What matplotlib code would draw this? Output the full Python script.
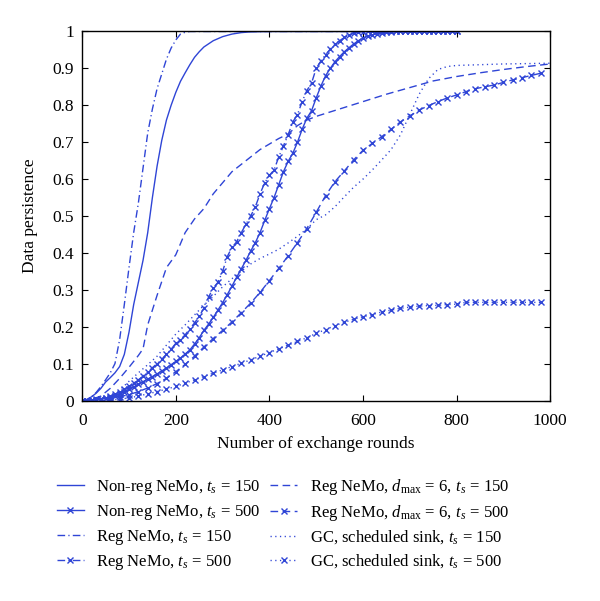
import numpy as np
import matplotlib
matplotlib.use('Agg')
import matplotlib.pyplot as plt

matplotlib.rcParams['font.family'] = ['Liberation Serif', 'DejaVu Serif']
matplotlib.rcParams['mathtext.fontset'] = 'custom'
matplotlib.rcParams['mathtext.rm'] = 'Liberation Serif'
matplotlib.rcParams['mathtext.it'] = 'Liberation Serif:italic'

# Non-reg NeMo, ts = 150
x_nr150 = [0, 10, 20, 30, 40, 50, 60, 70, 80, 90, 100, 110, 120, 130, 140, 150, 160, 170, 180, 190,
           200, 210, 220, 230, 240, 250, 260, 280, 300, 320, 340, 360, 400, 500, 600, 700, 800]
y_nr150 = [0, 0.003, 0.01, 0.02, 0.033, 0.05, 0.062, 0.075, 0.092, 0.125, 0.185, 0.26, 0.32, 0.38, 0.455,
           0.55, 0.635, 0.705, 0.76, 0.8, 0.835, 0.865, 0.888, 0.91, 0.93, 0.945, 0.958, 0.975, 0.986,
           0.993, 0.997, 0.999, 1, 1, 1, 1, 1]

# Reg NeMo, ts = 150
x_r150 = [0, 10, 20, 30, 40, 50, 60, 70, 80, 90, 100, 110, 120, 130, 140, 150, 160, 170, 180, 190,
          200, 210, 220, 230, 300, 400, 500, 600, 700, 800]
y_r150 = [0, 0.002, 0.01, 0.022, 0.038, 0.056, 0.075, 0.1, 0.165, 0.26, 0.36, 0.455, 0.535, 0.63, 0.725,
          0.79, 0.845, 0.885, 0.925, 0.955, 0.977, 0.993, 0.998, 1, 1, 1, 1, 1, 1, 1]

# Reg NeMo, dmax = 6, ts = 150
x_d150 = [0, 20, 40, 60, 80, 100, 120, 130, 140, 160, 180, 200, 220, 240, 260, 280, 300, 320, 340, 360,
          380, 400, 420, 440, 460, 480, 500, 550, 600, 650, 700, 750, 800, 850, 900, 950, 1000]
y_d150 = [0, 0.003, 0.012, 0.033, 0.06, 0.09, 0.122, 0.14, 0.205, 0.285, 0.36, 0.395, 0.455, 0.492, 0.52,
          0.56, 0.59, 0.62, 0.64, 0.66, 0.68, 0.695, 0.71, 0.722, 0.745, 0.76, 0.77, 0.79, 0.81, 0.83,
          0.848, 0.866, 0.878, 0.888, 0.897, 0.905, 0.912]

# GC, scheduled sink, ts = 150
x_gc150 = [0, 20, 40, 60, 80, 100, 120, 140, 160, 180, 200, 220, 240, 260, 280, 300, 320, 340, 360, 380,
           400, 420, 440, 460, 480, 500, 520, 540, 560, 580, 600, 620, 640, 660, 680, 700, 720, 740, 760,
           780, 800, 850, 900, 950, 1000]
y_gc150 = [0, 0.001, 0.004, 0.01, 0.028, 0.052, 0.075, 0.097, 0.12, 0.15, 0.18, 0.205, 0.232, 0.258,
           0.282, 0.308, 0.33, 0.35, 0.37, 0.385, 0.397, 0.41, 0.427, 0.445, 0.465, 0.49, 0.503, 0.525,
           0.552, 0.578, 0.6, 0.625, 0.652, 0.68, 0.72, 0.775, 0.83, 0.872, 0.897, 0.905, 0.908, 0.91,
           0.912, 0.913, 0.914]

# Non-reg NeMo, ts = 500 (every 10 rounds up to 800)
x_nr500 = list(range(0, 810, 10))
y_nr500 = [0, 0, 0.001, 0.002, 0.004, 0.006, 0.009, 0.013, 0.018, 0.024, 0.03, 0.037, 0.044, 0.051,
           0.058, 0.065, 0.072, 0.08, 0.088, 0.097, 0.106, 0.115, 0.126, 0.137, 0.153, 0.17, 0.19, 0.207,
           0.225, 0.245, 0.265, 0.287, 0.31, 0.334, 0.357, 0.38, 0.405, 0.428, 0.455, 0.488, 0.52, 0.55,
           0.585, 0.62, 0.648, 0.67, 0.7, 0.735, 0.765, 0.785, 0.82, 0.852, 0.88, 0.9, 0.918, 0.932,
           0.945, 0.956, 0.966, 0.975, 0.982, 0.987, 0.991, 0.994, 0.996, 0.998, 0.999, 1, 1, 1, 1, 1,
           1, 1, 1, 1, 1, 1, 1, 1, 1]

# Reg NeMo, ts = 500 (every 10 rounds up to 800)
x_r500 = list(range(0, 810, 10))
y_r500 = [0, 0, 0.001, 0.003, 0.005, 0.008, 0.012, 0.017, 0.023, 0.03, 0.038, 0.047, 0.056, 0.066,
          0.077, 0.089, 0.1, 0.112, 0.125, 0.139, 0.155, 0.165, 0.178, 0.195, 0.21, 0.228, 0.25, 0.28,
          0.305, 0.32, 0.35, 0.39, 0.415, 0.43, 0.455, 0.478, 0.5, 0.525, 0.56, 0.59, 0.61, 0.625, 0.66,
          0.69, 0.72, 0.755, 0.775, 0.81, 0.84, 0.86, 0.9, 0.92, 0.937, 0.952, 0.965, 0.975, 0.984,
          0.99, 0.995, 0.998, 0.999, 1, 1, 1, 1, 1, 1, 1, 1, 1, 1, 1, 1, 1, 1, 1, 1, 1, 1, 1, 1]

# Reg NeMo, dmax = 6, ts = 500 (every 20 rounds)
x_d500 = list(range(0, 1000, 20))
y_d500 = [0, 0.001, 0.003, 0.006, 0.01, 0.016, 0.024, 0.034, 0.046, 0.06, 0.078, 0.098, 0.12, 0.145,
          0.168, 0.19, 0.213, 0.238, 0.264, 0.293, 0.325, 0.358, 0.392, 0.428, 0.466, 0.51, 0.555, 0.593,
          0.622, 0.652, 0.678, 0.697, 0.715, 0.735, 0.755, 0.771, 0.787, 0.799, 0.81, 0.82, 0.828, 0.837,
          0.845, 0.85, 0.855, 0.862, 0.869, 0.875, 0.881, 0.887]

# GC, scheduled sink, ts = 500 (every 20 rounds)
x_gc500 = list(range(0, 1000, 20))
y_gc500 = [0, 0, 0.001, 0.002, 0.004, 0.007, 0.012, 0.018, 0.024, 0.031, 0.038, 0.047, 0.056, 0.065,
           0.074, 0.083, 0.092, 0.101, 0.11, 0.12, 0.13, 0.14, 0.15, 0.16, 0.17, 0.182, 0.192, 0.203,
           0.212, 0.22, 0.227, 0.233, 0.24, 0.245, 0.25, 0.253, 0.256, 0.257, 0.258, 0.26, 0.261, 0.266,
           0.266, 0.266, 0.266, 0.266, 0.266, 0.266, 0.266, 0.266]

c = '#2f45d6'
lw = 1.0
ms = 4.5
dash = (5.5, 3.2)
dashdot = (5.5, 2.3, 0.9, 2.3)
dot = (0.9, 2.5)

fig = plt.figure(figsize=(6, 6.01), dpi=100)
ax = fig.add_axes([0.137, 0.3336, 0.78, 0.614])

h1, = ax.plot(x_nr150, y_nr150, '-', color=c, lw=lw, label=r'Non-reg NeMo, $t_s\,=\,150$')
h2, = ax.plot(x_nr500, y_nr500, '-x', color=c, lw=lw, ms=ms, label=r'Non-reg NeMo, $t_s\,=\,500$')
h3, = ax.plot(x_r150, y_r150, color=c, lw=lw, dashes=dashdot, label=r'Reg NeMo, $t_s\,=\,150$')
h4, = ax.plot(x_r500, y_r500, 'x', ls='-', dashes=dashdot, color=c, lw=lw, ms=ms,
              label=r'Reg NeMo, $t_s\,=\,500$')
h5, = ax.plot(x_d150, y_d150, color=c, lw=lw, dashes=dash,
              label=r'Reg NeMo, $d_{\mathrm{max}}\,=\,6,\,t_s\,=\,150$')
h6, = ax.plot(x_d500, y_d500, 'x', ls='-', dashes=dash, color=c, lw=lw, ms=ms,
              label=r'Reg NeMo, $d_{\mathrm{max}}\,=\,6,\,t_s\,=\,500$')
h7, = ax.plot(x_gc150, y_gc150, color=c, lw=lw, dashes=dot, label=r'GC, scheduled sink, $t_s\,=\,150$')
h8, = ax.plot(x_gc500, y_gc500, 'x', ls='-', dashes=dot, color=c, lw=lw, ms=ms,
              label=r'GC, scheduled sink, $t_s\,=\,500$')

ax.set_xlim(0, 1000)
ax.set_ylim(0, 1)
ax.set_xticks([0, 200, 400, 600, 800, 1000])
ax.set_yticks(np.arange(0, 1.01, 0.1))
ax.set_yticklabels(['0', '0.1', '0.2', '0.3', '0.4', '0.5', '0.6', '0.7', '0.8', '0.9', '1'])
ax.tick_params(direction='in', top=True, right=True, length=4, width=0.8, labelsize=12.5)
ax.tick_params(axis='y', pad=6)
ax.tick_params(axis='x', pad=9)
for s in ax.spines.values():
    s.set_linewidth(1.0)

ax.set_xlabel('Number of exchange rounds', fontsize=12.5, labelpad=5)
ax.set_ylabel('Data persistence', fontsize=12.5, labelpad=10)

fig.legend(handles=[h1, h2, h3, h4, h5, h6, h7, h8], ncol=2, loc='upper left',
           bbox_to_anchor=(0.095, 0.207), frameon=False, fontsize=12, handlelength=1.6,
           columnspacing=0.6, handletextpad=0.75, labelspacing=0.36, borderpad=0, borderaxespad=0)

fig.savefig('out.png', dpi=100)
